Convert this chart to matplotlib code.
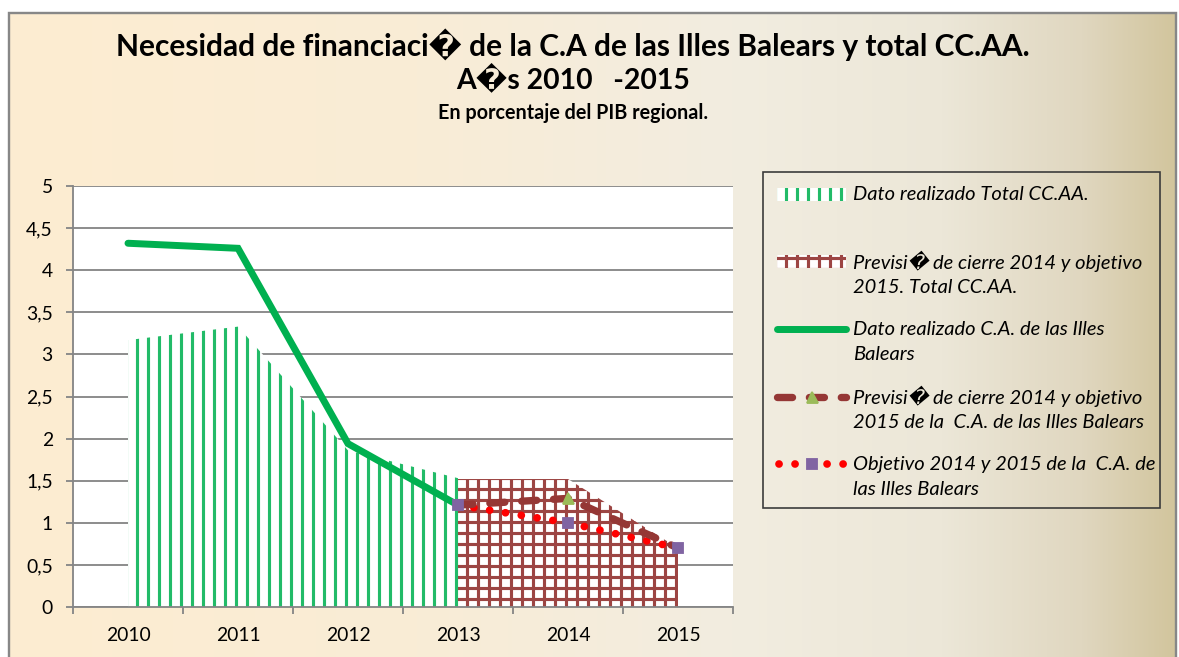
import numpy as np
import matplotlib
matplotlib.use('Agg')
import matplotlib.pyplot as plt
from matplotlib.patches import Rectangle
from matplotlib.lines import Line2D

# ---------------- data ----------------
years = ['2010', '2011', '2012', '2013', '2014', '2015']
total_ccaa_real = [3.17, 3.33, 1.86, 1.53, np.nan, np.nan]
total_ccaa_prev = [np.nan, np.nan, np.nan, 1.52, 1.52, 0.70]
balears_real = [4.32, 4.26, 1.94, 1.21, np.nan, np.nan]
balears_prev = [np.nan, np.nan, np.nan, 1.21, 1.29, 0.70]
balears_obj = [np.nan, np.nan, np.nan, 1.21, 1.00, 0.70]
yticks = [0, 0.5, 1, 1.5, 2, 2.5, 3, 3.5, 4, 4.5, 5]
ytick_labels = ['0', '0,5', '1', '1,5', '2', '2,5', '3', '3,5', '4', '4,5', '5']

title_1 = 'Necesidad de financiaci\ufffd de la C.A de las Illes Balears y total CC.AA.'
title_2 = 'A\ufffds 2010   -2015'
subtitle = 'En porcentaje del PIB regional.'
legend_lines = [
    ['Dato realizado Total CC.AA.'],
    ['Previsi\ufffd de cierre 2014 y objetivo', '2015. Total CC.AA.'],
    ['Dato realizado C.A. de las Illes', 'Balears'],
    ['Previsi\ufffd de cierre 2014 y objetivo', '2015 de la  C.A. de las Illes Balears'],
    ['Objetivo 2014 y 2015 de la  C.A. de', 'las Illes Balears'],
]

# ---------------- style ----------------
GREEN = '#00B050'
HATCH_GREEN = '#22BB68'
DARKRED = '#953735'
HATCH_RED = '#9C4543'
RED = '#FF0000'
PURPLE = '#8064A2'
OLIVE = '#9BBB59'
GRID = '#868686'

plt.rcParams['font.family'] = ['Lato', 'DejaVu Sans']
plt.rcParams['hatch.linewidth'] = 1.7

W, H, DPI = 1179, 657, 132
fig = plt.figure(figsize=(W / DPI, H / DPI), dpi=DPI)
fig.patch.set_facecolor('white')

def fx(px):
    return px / W

def fy(py):
    return 1 - py / H

# ---------------- background gradient ----------------
bg = fig.add_axes([0, 0, 1, 1])
bg.set_zorder(-5)
bg.set_xlim(0, W)
bg.set_ylim(H, 0)
bg.axis('off')
stops = np.array([0.0, 0.35, 0.62, 0.80, 0.92, 1.0])
cols = np.array([
    [253, 237, 209],
    [249, 236, 214],
    [242, 237, 224],
    [236, 231, 216],
    [224, 215, 192],
    [210, 197, 157],
]) / 255.0
t = np.linspace(0, 1, 600)
grad = np.stack([np.interp(t, stops, cols[:, k]) for k in range(3)], axis=-1)
grad = np.tile(grad[None, :, :], (4, 1, 1))
bg.imshow(grad, extent=(9, 1176, H, 13), aspect='auto', interpolation='bilinear')
bg.plot([9, 9, 1176, 1176], [H, 13, 13, H], color='#878787', lw=1.3, solid_joinstyle='miter')

# ---------------- main axes ----------------
ax = fig.add_axes([fx(73), fy(607), fx(733) - fx(73), fy(186) - fy(607)])
ax.set_facecolor('white')
x = np.arange(len(years))

def valid(arr):
    a = np.asarray(arr, dtype=float)
    m = np.isfinite(a)
    return x[m], a[m]

DOT_LW = 4.2
DASH_LW = 4.0
DOTTED = (0, (0.01, 2.07))
DASHED = (0, (2.05, 2.3))

xr, yr = valid(total_ccaa_real)
ax.fill_between(xr, 0, yr, facecolor='white', edgecolor=HATCH_GREEN, hatch='||', linewidth=0, zorder=2)
xp, yp = valid(total_ccaa_prev)
ax.fill_between(xp, 0, yp, facecolor='white', edgecolor=HATCH_RED, hatch='++', linewidth=0, zorder=2)

xb, yb = valid(balears_real)
ax.plot(xb, yb, color=GREEN, lw=3.8, solid_capstyle='round', solid_joinstyle='miter', zorder=4)
xo, yo = valid(balears_obj)
ax.plot(xo, yo, color=RED, lw=DOT_LW, linestyle=DOTTED, dash_capstyle='round', zorder=4)
ax.plot(xo, yo, linestyle='none', marker='s', ms=5.5, mfc=PURPLE, mec=PURPLE, zorder=6)
xv, yv = valid(balears_prev)
ax.plot(xv, yv, color=DARKRED, lw=DASH_LW, linestyle=DASHED, dash_capstyle='round', zorder=5)
ax.plot(xv[1:2], yv[1:2], linestyle='none', marker='^', ms=6, mfc=OLIVE, mec=OLIVE, zorder=6)

ax.set_xlim(-0.5, len(years) - 0.5)
ax.set_ylim(0, 5)
ax.set_yticks(yticks)
ax.set_yticklabels(ytick_labels)
ax.yaxis.grid(True, color=GRID, lw=1.0, zorder=0)
ax.set_axisbelow(True)
ax.set_xticks(x)
ax.set_xticklabels(years)
ax.set_xticks(np.arange(-0.5, len(years)), minor=True)
ax.tick_params(axis='x', which='major', length=0, pad=11, labelsize=10.5, colors='black')
ax.tick_params(axis='x', which='minor', length=4, width=1, color=GRID, direction='out')
ax.tick_params(axis='y', which='major', length=4, width=1, color=GRID, pad=7, labelsize=10.5)
for s in ['top', 'right']:
    ax.spines[s].set_visible(False)
for s in ['left', 'bottom']:
    ax.spines[s].set_color(GRID)
    ax.spines[s].set_linewidth(1.0)
ax.spines['bottom'].set_zorder(3)

# ---------------- titles ----------------
cx = fx(573)
fig.text(cx, fy(45), title_1, ha='center', va='center', fontsize=16.3, fontweight='bold')
fig.text(cx, fy(78), title_2, ha='center', va='center', fontsize=15.5, fontweight='bold')
fig.text(cx, fy(113), subtitle, ha='center', va='center', fontsize=10.8, fontweight='bold')

# ---------------- legend (manual) ----------------
lax = fig.add_axes([0, 0, 1, 1])
lax.set_xlim(0, W)
lax.set_ylim(H, 0)
lax.axis('off')
lax.patch.set_alpha(0)
lax.add_patch(Rectangle((763, 172), 1160 - 763, 508 - 172, facecolor='none', edgecolor='#3a3a3a', lw=0.9))

row0, pitch, lpitch = 194, 67.6, 25.5
hx0, hx1 = 777, 846
rows = [row0 + pitch * i for i in range(5)]
# 1: green stripes
lax.add_patch(Rectangle((hx0, rows[0] - 6.5), hx1 - hx0, 13, facecolor='white', edgecolor=HATCH_GREEN, hatch='||', lw=0))
# 2: red grid
lax.add_patch(Rectangle((hx0, rows[1] - 6.5), hx1 - hx0, 13, facecolor='white', edgecolor=HATCH_RED, hatch='++', lw=0))
# 3: green line
lax.add_line(Line2D([hx0, hx1], [rows[2], rows[2]], color=GREEN, lw=3.8, solid_capstyle='round'))
# 4: dashed with triangle
lax.add_line(Line2D([hx0, hx1], [rows[3], rows[3]], color=DARKRED, lw=DASH_LW, linestyle=DASHED, dash_capstyle='round'))
lax.add_line(Line2D([(hx0 + hx1) / 2], [rows[3]], marker='^', ms=6, mfc=OLIVE, mec=OLIVE, linestyle='none'))
# 5: dotted with square
lax.add_line(Line2D([hx0 + 2, hx1], [rows[4], rows[4]], color=RED, lw=DOT_LW, linestyle=DOTTED, dash_capstyle='round'))
lax.add_line(Line2D([(hx0 + hx1) / 2], [rows[4]], marker='s', ms=5.5, mfc=PURPLE, mec=PURPLE, linestyle='none'))

for i, lines in enumerate(legend_lines):
    for j, txt in enumerate(lines):
        lax.text(853, rows[i] + j * lpitch, txt, ha='left', va='center', fontsize=11, fontstyle='italic')

fig.savefig('out.png', dpi=DPI)
